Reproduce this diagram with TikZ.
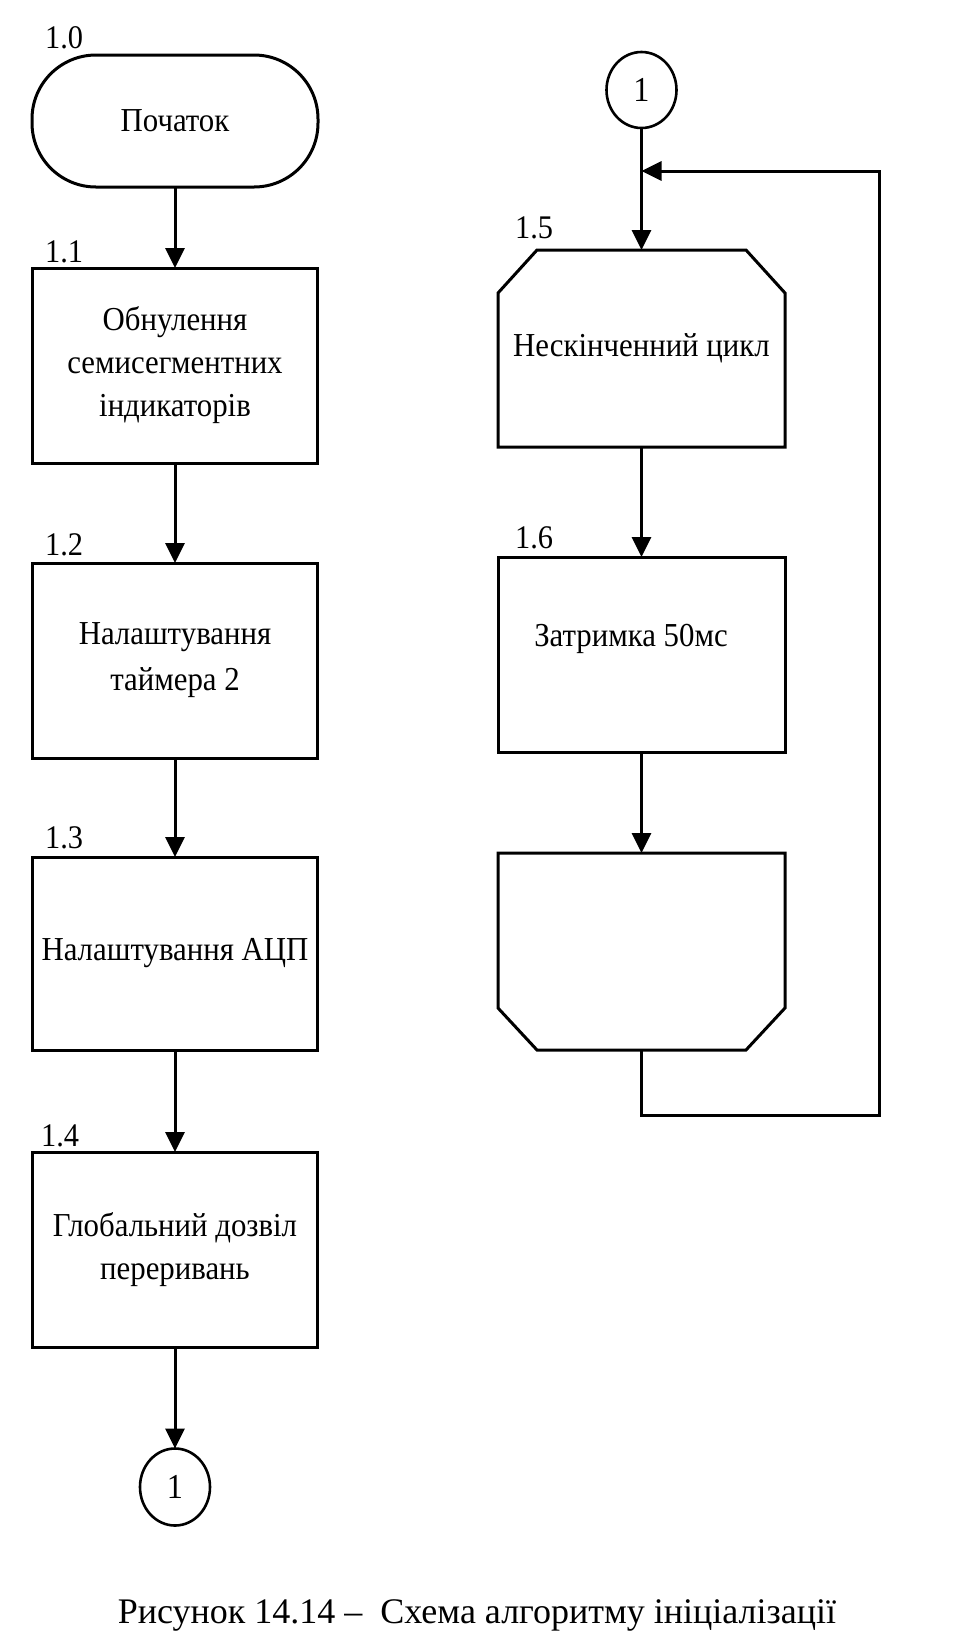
\documentclass[tikz,border=0pt]{standalone}
\usepackage{fontspec}
\setmainfont{Liberation Serif}
\newfontfamily\boxfont[FakeStretch=0.92]{Liberation Serif}
\usetikzlibrary{arrows.meta,shapes.geometric}
\begin{document}
\begin{tikzpicture}[x={(1pt,0pt)}, y={(0pt,-1pt)},
  line/.style={line width=3pt, draw=black, line join=miter},
  arr/.style={line, -{Triangle[length=20pt,width=19pt]}},
  txt/.style={font=\boxfont\fontsize{33.5}{43}\selectfont, align=center},
  box/.style={draw, line width=3pt, minimum width=285pt, minimum height=195pt,
    inner sep=0pt, outer sep=0pt, txt},
  hexshape/.style={draw=none, minimum width=287pt, minimum height=197pt,
    inner sep=0pt, outer sep=0pt, txt},
  term/.style={draw, line width=3pt, rounded corners=64pt, minimum width=286pt,
    minimum height=132pt, inner sep=0pt, outer sep=0pt, txt},
  conn/.style={draw, ellipse, line width=2.6pt, minimum width=70pt,
    minimum height=77pt, inner sep=0pt, outer sep=0pt,
    font=\boxfont\fontsize{35}{40}\selectfont},
  num/.style={anchor=base west, inner sep=0pt, font=\boxfont\fontsize{33}{36}\selectfont}
]
\useasboundingbox (0,0) rectangle (964,1650);

% left column
\node[term] (t0) at (175,121) {Початок};
\node[box] (b11) at (175,365.5) {Обнулення\\семисегментних\\індикаторів};
\node[box] (b12) at (175,660.5) {Налаштування\\[3pt]таймера 2};
\node[box, minimum height=193pt] (b13) at (175,953.5) {Налаштування АЦП};
\node[box] (b14) at (175,1249.5) {Глобальний дозвіл\\переривань};
\node[conn] (c1) at (175,1487) {1};

\node[num] (n10) at (45,48) {1.0};
\node[num] (n11) at (45,262) {1.1};
\node[num] (n12) at (45,555) {1.2};
\node[num] (n13) at (45,848) {1.3};
\node[num] (n14) at (41,1146) {1.4};

\draw[arr] (t0) -- (b11);
\draw[arr] (b11) -- (b12);
\draw[arr] (b12) -- (b13);
\draw[arr] (b13) -- (b14);
\draw[arr] (b14) -- (c1);

% right column
\node[conn, minimum height=76pt] (c2) at (641.5,90) {1};
\node[hexshape] (b15) at (641.5,348.5) {Нескінченний цикл};
\draw[line] ([xshift=39pt]b15.north west) -- ([xshift=-39pt]b15.north east)
  -- ([yshift=-43pt]b15.north east) -- (b15.south east) -- (b15.south west)
  -- ([yshift=-43pt]b15.north west) -- cycle;
\node[box, minimum width=287pt] (b16) at (641.5,654.5) {};
\node[txt, inner sep=0pt] (t16) at (631,639) {Затримка 50мс};
\node[hexshape] (b17) at (641.5,951.5) {};
\draw[line] (b17.north west) -- (b17.north east)
  -- ([yshift=42pt]b17.south east) -- ([xshift=-39pt]b17.south east)
  -- ([xshift=39pt]b17.south west) -- ([yshift=42pt]b17.south west) -- cycle;

\node[num] (n15) at (515,238) {1.5};
\node[num] (n16) at (515,548) {1.6};

\coordinate (jn) at (641.5,171);
\coordinate (lc1) at (641.5,1115);
\coordinate (lc2) at (879,1115);

\draw[arr] (c2) -- (b15);
\draw[arr] (b15) -- (b16);
\draw[arr] (b16) -- (b17);
\draw[arr] (b17.south) -- (lc1) -- (lc2) |- (jn);

% caption
\node[anchor=base, inner sep=0pt, font=\fontsize{36}{40}\selectfont] (cap) at (477,1623)
  {Рисунок 14.14 –\ \ Схема алгоритму ініціалізації};
\end{tikzpicture}
\end{document}
